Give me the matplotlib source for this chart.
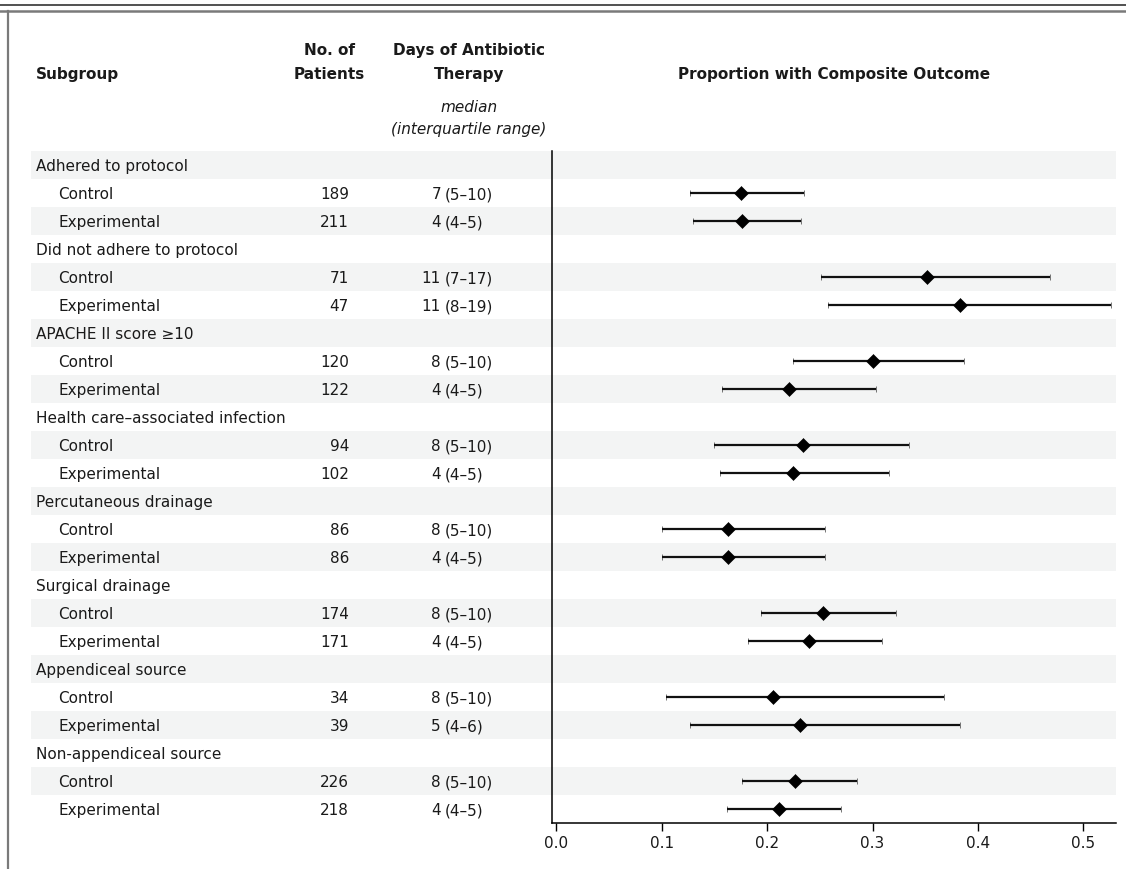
import matplotlib
matplotlib.use("Agg")
import matplotlib.pyplot as plt
from matplotlib.lines import Line2D
import numpy as np

# ---------------- data ----------------
groups = ["Adhered to protocol", "Did not adhere to protocol", "APACHE II score \u226510",
          "Health care\u2013associated infection", "Percutaneous drainage",
          "Surgical drainage", "Appendiceal source", "Non-appendiceal source"]
arms = ["Control", "Experimental"]
n_control = [189, 71, 120, 94, 86, 174, 34, 226]
n_exp = [211, 47, 122, 102, 86, 171, 39, 218]
days_med_control = [7, 11, 8, 8, 8, 8, 8, 8]
days_iqr_control = ["5\u201310", "7\u201317", "5\u201310", "5\u201310", "5\u201310", "5\u201310", "5\u201310", "5\u201310"]
days_med_exp = [4, 11, 4, 4, 4, 4, 5, 4]
days_iqr_exp = ["4\u20135", "8\u201319", "4\u20135", "4\u20135", "4\u20135", "4\u20135", "4\u20136", "4\u20135"]
ctrl_est = [0.175, 0.352, 0.300, 0.234, 0.163, 0.253, 0.206, 0.226]
ctrl_lo = [0.127, 0.251, 0.225, 0.150, 0.100, 0.194, 0.104, 0.176]
ctrl_hi = [0.235, 0.468, 0.387, 0.335, 0.255, 0.322, 0.368, 0.285]
exp_est = [0.176, 0.383, 0.221, 0.225, 0.163, 0.240, 0.231, 0.211]
exp_lo = [0.130, 0.258, 0.157, 0.155, 0.100, 0.182, 0.127, 0.162]
exp_hi = [0.232, 0.526, 0.303, 0.316, 0.255, 0.309, 0.383, 0.270]
xticks = [0.0, 0.1, 0.2, 0.3, 0.4, 0.5]
xticklabels = ["0.0", "0.1", "0.2", "0.3", "0.4", "0.5"]

# ---------------- layout (pixels) ----------------
W, H = 1126, 869
FONT = ["DejaVu Sans"]
FS = 11
TXT = "#1a1a1a"
STRIPE = "#f3f4f4"
row_top = 151
row_h = 28
n_rows = len(groups) * 3
ax_left, ax_right = 552.3, 1116
ax_bottom = row_top + n_rows * row_h

plt.rcParams["font.family"] = FONT
fig = plt.figure(figsize=(W / 100, H / 100), dpi=100)
fig.patch.set_facecolor("white")

bg = fig.add_axes([0, 0, 1, 1])
bg.set_xlim(0, W)
bg.set_ylim(H, 0)
bg.axis("off")

# frame lines
bg.add_line(Line2D([0, W], [4.5, 4.5], color="#222222", lw=1.1))
bg.add_line(Line2D([0, W], [11.2, 11.2], color="#7a7a7a", lw=1.8))
bg.add_line(Line2D([8, 8], [11.2, H], color="#7a7a7a", lw=1.6))

# stripes
row_centers = [row_top + row_h * (i + 0.5) for i in range(n_rows)]
shaded = [row_centers[i] for i in range(n_rows) if i % 2 == 0]
bg.barh(shaded, [ax_right - 31] * len(shaded), left=31, height=row_h,
        color=STRIPE, edgecolor="none", zorder=0)

# headers
hb = dict(fontsize=FS, fontweight="bold", color=TXT, family=FONT, va="center_baseline")
bg.text(36, 73, "Subgroup", ha="left", **hb)
bg.text(329, 49, "No. of", ha="center", **hb)
bg.text(329, 73, "Patients", ha="center", **hb)
bg.text(469, 49, "Days of Antibiotic", ha="center", **hb)
bg.text(469, 73, "Therapy", ha="center", **hb)
bg.text((ax_left + ax_right) / 2, 73, "Proportion with Composite Outcome",
        ha="center", **hb)
bg.text(469, 106, "median", ha="center", va="center_baseline", fontsize=FS,
        style="italic", color=TXT, family=FONT)
bg.text(469, 128, "(interquartile range)", ha="center", va="center_baseline",
        fontsize=FS, style="italic", color=TXT, family=FONT)

# table rows
tb = dict(fontsize=FS, color=TXT, family=FONT, va="center_baseline")
for g, name in enumerate(groups):
    r0 = g * 3
    bg.text(36, row_centers[r0], name, ha="left", **tb)
    vals = [(n_control[g], days_med_control[g], days_iqr_control[g]),
            (n_exp[g], days_med_exp[g], days_iqr_exp[g])]
    for a, arm in enumerate(arms):
        y = row_centers[r0 + 1 + a]
        n, med, iqr = vals[a]
        bg.text(58, y, arm, ha="left", **tb)
        bg.text(349, y, str(n), ha="right", **tb)
        bg.text(441, y, str(med), ha="right", **tb)
        bg.text(445, y, "(" + iqr + ")", ha="left", **tb)

# forest axes
ax = fig.add_axes([ax_left / W, 1 - ax_bottom / H,
                   (ax_right - ax_left) / W, (ax_bottom - row_top) / H])
ax.set_facecolor("none")
ax.set_xlim(-0.0038, 0.531)
ax.set_ylim(n_rows, 0)

yc = [g * 3 + 1.5 for g in range(len(groups))]
ye = [g * 3 + 2.5 for g in range(len(groups))]
for ys, est, lo, hi in [(yc, ctrl_est, ctrl_lo, ctrl_hi), (ye, exp_est, exp_lo, exp_hi)]:
    est = np.array(est); lo = np.array(lo); hi = np.array(hi)
    ax.errorbar(est, ys, xerr=[est - lo, hi - est], fmt="D", color="black",
                ms=7, mec="black", mew=0.4, elinewidth=1.6, capsize=2.0,
                capthick=1.6, ecolor="#111111", zorder=3)

for s in ["top", "right"]:
    ax.spines[s].set_visible(False)
for s in ["left", "bottom"]:
    ax.spines[s].set_linewidth(1.1)
    ax.spines[s].set_color("black")
ax.set_yticks([])
ax.set_xticks(xticks)
ax.set_xticklabels(xticklabels, fontsize=FS, color=TXT, family=FONT)
ax.tick_params(axis="x", direction="out", length=6, width=1.0, pad=3, color="black")

fig.savefig("out.png", dpi=100, facecolor="white")
